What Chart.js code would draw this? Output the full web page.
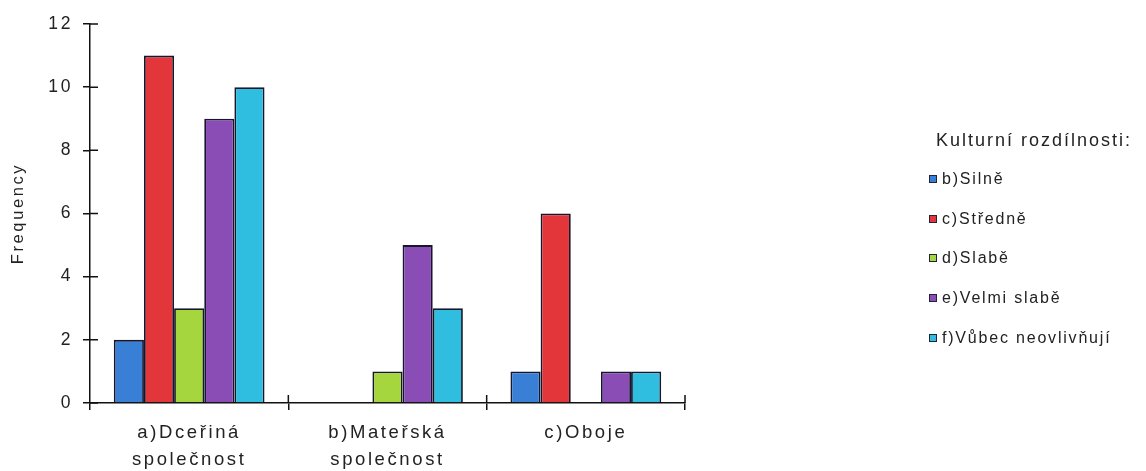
<!DOCTYPE html>
<html>
<head>
<meta charset="utf-8">
<script src="https://cdn.jsdelivr.net/npm/chart.js@4/dist/chart.umd.min.js"></script>
<style>
  html, body { margin: 0; padding: 0; background: #fff; }
  #wrap { position: relative; width: 1146px; height: 471px; }
  #legend { position: absolute; left: 929px; top: 122px; font-family: "Liberation Sans", Arial, sans-serif; color: #222; }
  #legend .title { font-size: 18px; letter-spacing: 2px; margin-left: 7px; height: 37px; line-height: 37px; white-space: nowrap; }
  #legend .item { display: flex; align-items: center; height: 39.7px; font-size: 16px; letter-spacing: 1.8px; white-space: nowrap; }
  #legend .box { width: 6px; height: 6px; border: 1.5px solid #22223a; margin-right: 5px; }
</style>
</head>
<body>
<div id="wrap">
  <canvas id="c" width="1146" height="471"></canvas>
  <div id="legend"></div>
</div>
<script>
const categories = [["a)Dceřiná", "společnost"], ["b)Mateřská", "společnost"], ["c)Oboje"]];
const seriesNames = ["b)Silně", "c)Středně", "d)Slabě", "e)Velmi slabě", "f)Vůbec neovlivňují"];
const silne = [2, 0, 1];
const stredne = [11, 0, 6];
const slabe = [3, 1, 0];
const velmiSlabe = [9, 5, 1];
const vubec = [10, 3, 1];
const yTicks = [0, 2, 4, 6, 8, 10, 12];
const legendTitle = "Kulturní rozdílnosti:";
const yTitle = "Frequency";

const colors = ["#3a7fd6", "#e2363a", "#a6d63e", "#8a4db6", "#2fbde0"];
const values = [silne, stredne, slabe, velmiSlabe, vubec];
const fontFamily = "Liberation Sans, Arial, sans-serif";

const datasets = seriesNames.map((name, i) => ({
  label: name,
  data: values[i],
  backgroundColor: colors[i],
  borderColor: "#16162c",
  borderWidth: 1.8,
  categoryPercentage: 0.76,
  barPercentage: 1.0
}));

// Wide letter spacing for all canvas text
const spacedText = {
  id: "spacedText",
  beforeLayout(chart) { chart.ctx.letterSpacing = "2.6px"; },
  beforeDraw(chart) { chart.ctx.letterSpacing = "2.6px"; }
};

// Draws the inner half of each axis tick so marks cross the axis line
const crossTicks = {
  id: "crossTicks",
  afterDatasetsDraw(chart) {
    const { ctx, chartArea, scales } = chart;
    ctx.save();
    ctx.strokeStyle = "#111";
    ctx.lineWidth = 1.5;
    ctx.beginPath();
    scales.y.ticks.forEach((t, i) => {
      const y = scales.y.getPixelForTick(i);
      ctx.moveTo(chartArea.left, y);
      ctx.lineTo(chartArea.left + 8, y);
    });
    const n = scales.x.ticks.length;
    for (let i = 1; i <= n; i++) {
      const x = chartArea.left + (chartArea.right - chartArea.left) * i / n;
      ctx.moveTo(x, chartArea.bottom);
      ctx.lineTo(x, chartArea.bottom - 8);
    }
    ctx.stroke();
    ctx.restore();
  }
};

new Chart(document.getElementById("c"), {
  type: "bar",
  data: { labels: categories, datasets },
  options: {
    responsive: false,
    animation: false,
    layout: { padding: { left: 0, top: 24, right: 461, bottom: 0 } },
    plugins: { legend: { display: false }, tooltip: { enabled: false } },
    scales: {
      x: {
        grid: { display: true, drawOnChartArea: false, drawTicks: true, tickLength: 7, color: "#111", lineWidth: 1.5 },
        border: { display: true, color: "#111", width: 1.5 },
        ticks: {
          color: "#222", padding: 9,
          font: { family: fontFamily, size: 18.5, lineHeight: 1.47 },
          maxRotation: 0, minRotation: 0, autoSkip: false
        },
        afterFit(s) { s.height = 68; }
      },
      y: {
        min: 0, max: 12,
        afterBuildTicks(s) { s.ticks = yTicks.map(v => ({ value: v })); },
        grid: { display: true, drawOnChartArea: false, drawTicks: true, tickLength: 7, color: "#111", lineWidth: 1.5 },
        border: { display: true, color: "#111", width: 1.5 },
        ticks: {
          color: "#222", padding: 10,
          font: { family: fontFamily, size: 17.5 }
        },
        title: {
          display: true, text: yTitle, color: "#222", padding: { top: 9, bottom: 0 },
          font: { family: fontFamily, size: 16.5 }
        },
        afterFit(s) { s.width = 90; }
      }
    }
  },
  plugins: [spacedText, crossTicks]
});

// Legend
const lg = document.getElementById("legend");
const t = document.createElement("div");
t.className = "title";
t.textContent = legendTitle;
lg.appendChild(t);
seriesNames.forEach((name, i) => {
  const row = document.createElement("div");
  row.className = "item";
  const b = document.createElement("span");
  b.className = "box";
  b.style.background = colors[i];
  const s = document.createElement("span");
  s.textContent = name;
  row.appendChild(b);
  row.appendChild(s);
  lg.appendChild(row);
});
</script>
</body>
</html>
